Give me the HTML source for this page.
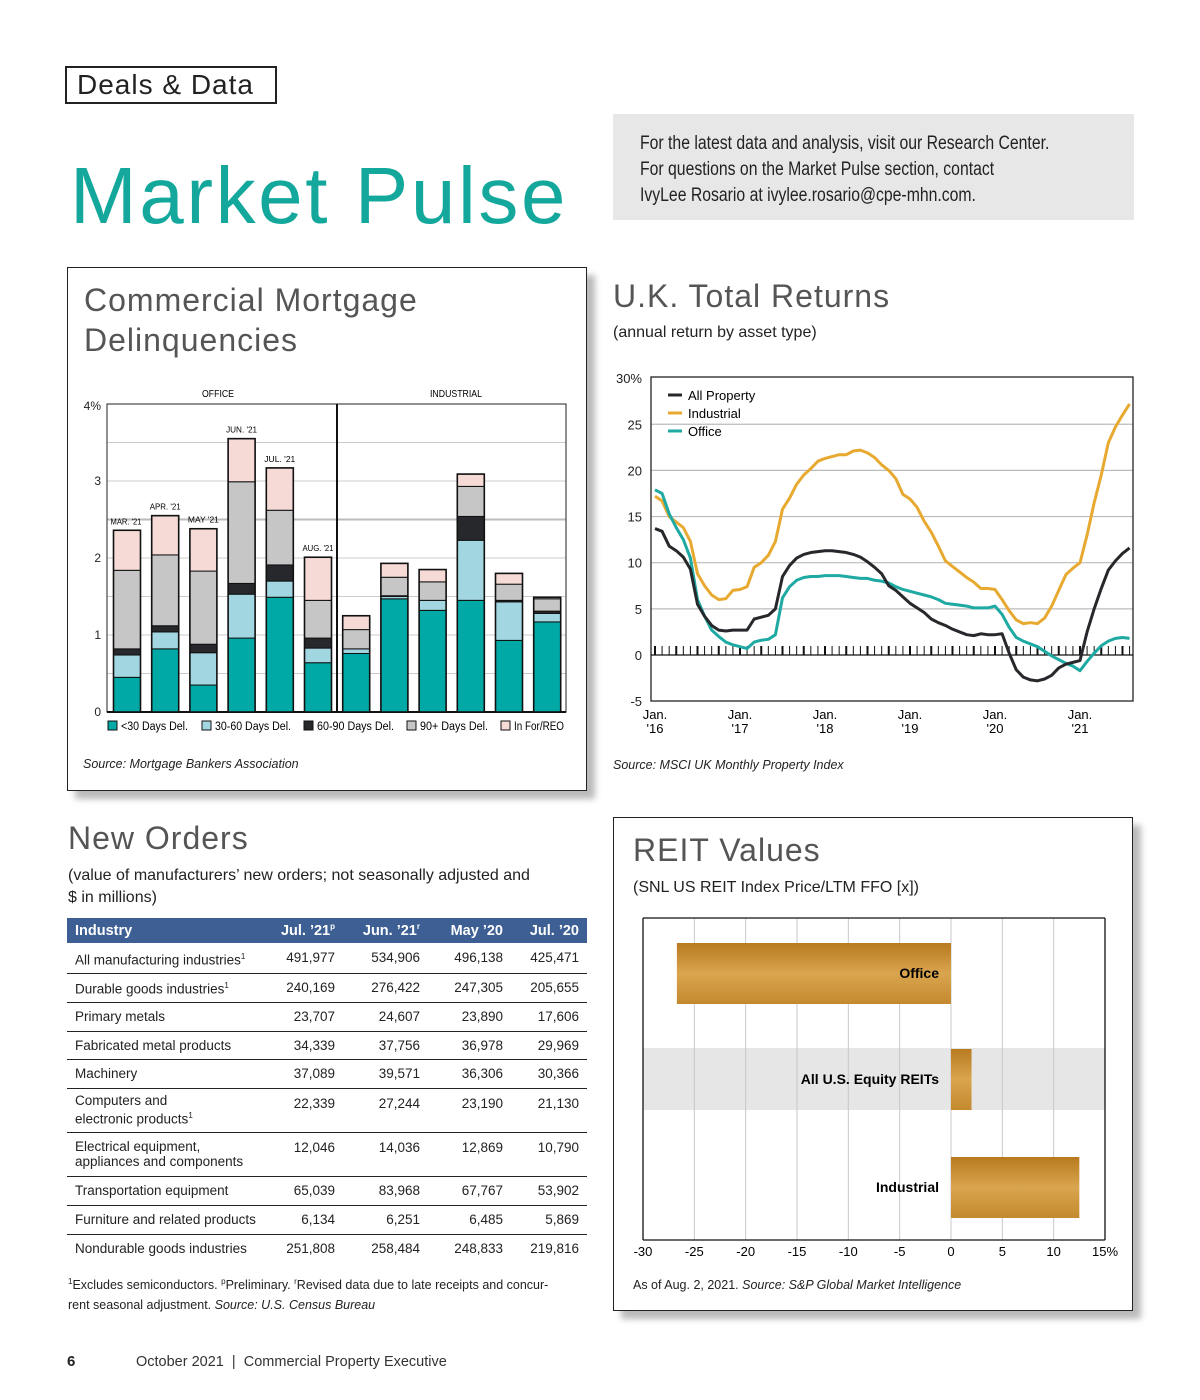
<!DOCTYPE html>
<html><head><meta charset="utf-8">
<style>
*{margin:0;padding:0;box-sizing:border-box}
body{width:1200px;height:1400px;background:#fff;position:relative;font-family:"Liberation Sans",sans-serif;color:#222;overflow:hidden}
.abs{position:absolute}
.title{font-weight:300;color:#555;font-size:32px;letter-spacing:1px}
.sub{font-size:16px;color:#222}
.src{font-size:12.5px;color:#222}
table{border-collapse:collapse;font-size:13.5px;table-layout:fixed}
td{border-bottom:1px solid #222;padding:0 8px;vertical-align:middle;line-height:15px;white-space:nowrap}
td.n{text-align:right}
tr:last-child td{border-bottom:none}
th{background:#3d5f94;color:#fff;font-weight:bold;font-size:14.5px;height:25px;padding:0 8px;text-align:right;white-space:nowrap}
th:first-child{text-align:left}
.info span{display:block;white-space:nowrap;transform:scaleX(0.83);transform-origin:left center}
</style></head><body>
<div class="abs" style="left:65px;top:66px;width:212px;height:38px;border:2px solid #222;font-size:28px;line-height:34px;padding-left:10px;color:#222;letter-spacing:1px">Deals &amp; Data</div>
<div class="abs" style="left:70px;top:150px;font-size:80px;color:#14a89c;letter-spacing:2.6px">Market Pulse</div>
<div class="abs info" style="left:613px;top:114px;width:521px;height:106px;background:#e7e7e7;padding:17px 0 0 27px;font-size:19px;line-height:26px;color:#222"><span>For the latest data and analysis, visit our Research Center.</span><span>For questions on the Market Pulse section, contact</span><span>IvyLee Rosario at ivylee.rosario@cpe-mhn.com.</span></div>

<!-- Delinquency panel -->
<div class="abs" style="left:67px;top:267px;width:520px;height:524px;border:1.5px solid #222;box-shadow:8px 8px 6px #bbb;background:#fff"></div>
<div class="abs title" style="left:84px;top:280px;line-height:40px">Commercial Mortgage<br>Delinquencies</div>
<div class="abs src" style="left:83px;top:757px"><i>Source: Mortgage Bankers Association</i></div>
<svg class="abs" style="left:0;top:0" width="1200" height="1400" id="dchart"></svg>

<!-- UK -->
<div class="abs title" style="left:613px;top:278px">U.K. Total Returns</div>
<div class="abs sub" style="left:613px;top:324px">(annual return by asset type)</div>
<div class="abs src" style="left:613px;top:758px"><i>Source: MSCI UK Monthly Property Index</i></div>

<!-- New Orders -->
<div class="abs title" style="left:68px;top:820px">New Orders</div>
<div class="abs sub" style="left:68px;top:865px;line-height:22px">(value of manufacturers’ new orders; not seasonally adjusted and<br>$ in millions)</div>
<table class="abs" style="left:67px;top:918px;width:520px">
<colgroup><col style="width:200px"><col style="width:76px"><col style="width:85px"><col style="width:83px"><col style="width:76px"></colgroup>
<tr><th>Industry</th><th>Jul. ’21<sup style="font-size:8px">p</sup></th><th>Jun. ’21<sup style="font-size:8px">r</sup></th><th>May ’20</th><th>Jul. ’20</th></tr>
<tr style="height:30px"><td>All manufacturing industries<sup style="font-size:8px">1</sup></td><td class="n">491,977</td><td class="n">534,906</td><td class="n">496,138</td><td class="n">425,471</td></tr>
<tr style="height:29px"><td>Durable goods industries<sup style="font-size:8px">1</sup></td><td class="n">240,169</td><td class="n">276,422</td><td class="n">247,305</td><td class="n">205,655</td></tr>
<tr style="height:29px"><td>Primary metals</td><td class="n">23,707</td><td class="n">24,607</td><td class="n">23,890</td><td class="n">17,606</td></tr>
<tr style="height:28px"><td>Fabricated metal products</td><td class="n">34,339</td><td class="n">37,756</td><td class="n">36,978</td><td class="n">29,969</td></tr>
<tr style="height:29px"><td>Machinery</td><td class="n">37,089</td><td class="n">39,571</td><td class="n">36,306</td><td class="n">30,366</td></tr>
<tr style="height:44px"><td>Computers and<br>electronic products<sup style="font-size:8px">1</sup></td><td class="n" style="vertical-align:top;padding-top:7px">22,339</td><td class="n" style="vertical-align:top;padding-top:7px">27,244</td><td class="n" style="vertical-align:top;padding-top:7px">23,190</td><td class="n" style="vertical-align:top;padding-top:7px">21,130</td></tr>
<tr style="height:44px"><td>Electrical equipment,<br>appliances and components</td><td class="n" style="vertical-align:top;padding-top:7px">12,046</td><td class="n" style="vertical-align:top;padding-top:7px">14,036</td><td class="n" style="vertical-align:top;padding-top:7px">12,869</td><td class="n" style="vertical-align:top;padding-top:7px">10,790</td></tr>
<tr style="height:29px"><td>Transportation equipment</td><td class="n">65,039</td><td class="n">83,968</td><td class="n">67,767</td><td class="n">53,902</td></tr>
<tr style="height:29px"><td>Furniture and related products</td><td class="n">6,134</td><td class="n">6,251</td><td class="n">6,485</td><td class="n">5,869</td></tr>
<tr style="height:28px"><td>Nondurable goods industries</td><td class="n">251,808</td><td class="n">258,484</td><td class="n">248,833</td><td class="n">219,816</td></tr>
</table>
<div class="abs src" style="left:68px;top:1272px;line-height:20px"><sup style="font-size:8px">1</sup>Excludes semiconductors. <sup style="font-size:8px">p</sup>Preliminary. <sup style="font-size:8px">r</sup>Revised data due to late receipts and concur-<br>rent seasonal adjustment. <i>Source: U.S. Census Bureau</i></div>

<!-- REIT -->
<div class="abs" style="left:613px;top:817px;width:520px;height:494px;border:1.5px solid #222;box-shadow:8px 8px 6px #bbb;background:#fff"></div>
<div class="abs title" style="left:633px;top:832px">REIT Values</div>
<div class="abs sub" style="left:633px;top:879px">(SNL US REIT Index Price/LTM FFO [x])</div>
<div class="abs src" style="left:633px;top:1278px">As of Aug. 2, 2021. <i>Source: S&amp;P Global Market Intelligence</i></div>

<div class="abs" style="left:67px;top:1353px;font-size:15px;font-weight:bold">6</div>
<div class="abs" style="left:136px;top:1354px;font-size:14.5px;color:#333">October 2021 &nbsp;|&nbsp; Commercial Property Executive</div>

<svg class="abs" style="left:0;top:0" width="1200" height="1400" id="ukchart"></svg>
<svg class="abs" style="left:0;top:0" width="1200" height="1400" id="reitchart"></svg>

<script>
// ---- Delinquency data ----
const dCats = ["MAR. '21","APR. '21","MAY '21","JUN. '21","JUL. '21","AUG. '21","","","","","",""];
const dLt30 = [0.45,0.82,0.35,0.96,1.49,0.64,0.76,1.47,1.32,1.45,0.93,1.17];
const d30_60 = [0.29,0.22,0.42,0.57,0.21,0.19,0.06,0.03,0.13,0.78,0.50,0.11];
const d60_90 = [0.08,0.08,0.11,0.14,0.21,0.13,0.00,0.01,0.00,0.31,0.02,0.03];
const d90p = [1.02,0.92,0.95,1.32,0.71,0.49,0.25,0.24,0.24,0.39,0.21,0.16];
const dReo = [0.52,0.51,0.55,0.56,0.55,0.56,0.18,0.18,0.16,0.16,0.14,0.02];
const dTicks = [0,1,2,3,4];
const dColors = ["#00a9a5","#a2d6e1","#26282c","#c6c6c6","#f5dad6"];
const dLegend = ["<30 Days Del.","30-60 Days Del.","60-90 Days Del.","90+ Days Del.","In For/REO"];

// ---- UK data (monthly Jan 2016 - Aug 2021) ----
const ukAll = [13.7,13.4,11.8,11.3,10.6,9.3,5.5,4.2,3.2,2.7,2.6,2.7, 2.7,2.7,3.9,4.1,4.3,5.0,8.5,9.7,10.5,10.9,11.1,11.2, 11.3,11.3,11.2,11.1,10.9,10.6,10.1,9.5,8.8,7.5,7.0,6.3, 5.6,5.1,4.6,3.9,3.5,3.2,2.8,2.5,2.2,2.1,2.3,2.2, 2.2,2.3,0.2,-1.6,-2.4,-2.7,-2.8,-2.6,-2.2,-1.4,-1.0,-0.8, -0.6,2.5,5.0,7.2,9.2,10.2,11.0,11.6];
const ukInd = [17.2,16.7,15.0,14.4,13.8,12.3,8.8,7.5,6.5,6.0,6.1,7.0, 7.1,7.4,9.5,10.0,10.8,12.3,15.8,17.0,18.5,19.5,20.2,21.0, 21.3,21.5,21.7,21.7,22.1,22.2,21.9,21.4,20.6,20.0,19.1,17.4, 16.9,16.0,14.5,13.3,11.8,10.2,9.6,9.0,8.4,7.9,7.2,7.2, 7.1,6.0,4.8,3.8,3.4,3.5,3.4,4.0,5.3,7.0,8.7,9.4, 10.0,13.0,16.5,19.5,23.0,24.7,26.0,27.2];
const ukOff = [17.9,17.5,15.3,13.8,12.5,10.5,6.0,4.2,2.7,2.0,1.4,1.1, 0.9,0.7,1.4,1.6,1.7,2.2,6.2,7.4,8.1,8.4,8.5,8.5, 8.6,8.6,8.6,8.5,8.4,8.3,8.3,8.1,8.0,7.8,7.4,7.1, 6.9,6.7,6.5,6.3,6.0,5.6,5.5,5.4,5.3,5.1,5.1,5.1, 5.3,4.4,3.0,1.9,1.5,1.2,0.9,0.4,-0.1,-0.5,-0.9,-1.2, -1.7,-0.7,0.2,1.0,1.5,1.8,1.9,1.8];
const ukYTicks = [-5,0,5,10,15,20,25,30];
const ukYears = ["'16","'17","'18","'19","'20","'21"];

// ---- REIT data ----
const reitCats = ["Office","All U.S. Equity REITs","Industrial"];
const reitVals = [-26.7,2.0,12.5];
const reitTicks = [-30,-25,-20,-15,-10,-5,0,5,10,15];

const NS="http://www.w3.org/2000/svg";
function mk(svg,tag,attrs,text){const e=document.createElementNS(NS,tag);for(const k in attrs)e.setAttribute(k,attrs[k]);if(text!==undefined)e.textContent=text;svg.appendChild(e);return e;}

// Delinquency chart
(function(){
 const s=document.getElementById('dchart');
 const x0=107,x1=566,yb=712,yt=404;
 const y=v=>yb-(v/4)*(yb-yt);
 const cx=i=>127+38.2*i;
 for(let v=0.5;v<=4;v+=0.5){const l=mk(s,'line',{x1:x0,x2:x1,y1:y(v),y2:y(v),stroke:v===2.5?'#bbb':'#ccc','stroke-width':v===2.5?2:1});
  }
 const fr=mk(s,'rect',{x:x0,y:yt,width:x1-x0,height:yb-yt,fill:'none',stroke:'#222','stroke-width':1});
 
 mk(s,'line',{x1:337,x2:337,y1:yt,y2:yb,stroke:'#111','stroke-width':2});
 mk(s,'line',{x1:x0,x2:x1,y1:yb,y2:yb,stroke:'#111','stroke-width':2});
 dTicks.forEach(t=>{const e=mk(s,'text',{x:101,y:y(t)+4+(t===4?2:0),'text-anchor':'end','font-size':12,fill:'#222'},t===4?'4%':String(t));
  });
 mk(s,'text',{x:218,y:397,'text-anchor':'middle','font-size':10,textLength:32,lengthAdjust:'spacingAndGlyphs'},'OFFICE');
 mk(s,'text',{x:456,y:397,'text-anchor':'middle','font-size':10,textLength:52,lengthAdjust:'spacingAndGlyphs'},'INDUSTRIAL');
 const series=[dLt30,d30_60,d60_90,d90p,dReo];
 for(let i=0;i<dLt30.length;i++){
  let acc=0;
  series.forEach((arr,k)=>{const v=arr[i];if(v<=0)return;
   const r=mk(s,'rect',{x:cx(i)-13.5,y:y(acc+v),width:27,height:y(acc)-y(acc+v),fill:dColors[k],stroke:'#111','stroke-width':1});
   
   acc+=v;});
  mk(s,'rect',{x:cx(i)-13.5,y:y(acc),width:27,height:yb-y(acc),fill:'none',stroke:'#111','stroke-width':1.6});
  if(dCats[i]){const t=mk(s,'text',{x:cx(i)+(i===0?-1:0),y:y(acc)-6,'text-anchor':'middle','font-size':8.5,textLength:31,lengthAdjust:'spacingAndGlyphs'},dCats[i]);
   }
 }
 const lx=[108,202,304,407,501];
 const lw=[67,76,77,68,50];
 dLegend.forEach((n,k)=>{const r=mk(s,'rect',{x:lx[k],y:721,width:9,height:9,fill:dColors[k],stroke:'#111'});
  
  const t=mk(s,'text',{x:lx[k]+13,y:730,'font-size':11.5,textLength:lw[k],lengthAdjust:'spacingAndGlyphs'},n);
  });
})();

// UK chart
(function(){
 const s=document.getElementById('ukchart');
 const x0=651,x1=1133,yt=377,yb=701;
 const y=v=>655-v*9.23;
 const x=i=>655+i*(85/12);
 ukYTicks.forEach(t=>{
  if(t>-5&&t<30&&t!==0){const l=mk(s,'line',{x1:x0,x2:x1,y1:y(t),y2:y(t),stroke:'#bbb','stroke-width':1.2});}
  const e=mk(s,'text',{x:642,y:y(t)+5,'text-anchor':'end','font-size':13,fill:'#222'},t===30?'30%':String(t));
  });
 mk(s,'rect',{x:x0,y:yt,width:x1-x0,height:yb-yt,fill:'none',stroke:'#222','stroke-width':1.3});
 mk(s,'line',{x1:x0,x2:x1,y1:y(0),y2:y(0),stroke:'#111','stroke-width':1.3});
 for(let i=0;i<ukAll.length;i++){mk(s,'line',{x1:x(i),x2:x(i),y1:y(0),y2:y(0)-9,stroke:'#111','stroke-width':i%3===0?2:1});}
 ukYears.forEach((yr,k)=>{const t=mk(s,'text',{x:x(k*12),y:719,'text-anchor':'middle','font-size':13},'Jan.');
  
  mk(s,'text',{x:x(k*12),y:733,'text-anchor':'middle','font-size':13},yr);});
 const lines=[[ukInd,'#e8a931','industrial-line'],[ukOff,'#1ea9a2','office-line'],[ukAll,'#26282b','all-property-line']];
 lines.forEach(([arr,c,n])=>{const p=mk(s,'polyline',{points:arr.map((v,i)=>x(i)+','+y(v)).join(' '),fill:'none',stroke:c,'stroke-width':3,'stroke-linejoin':'round'});
  });
 [['All Property','#26282b'],['Industrial','#e8a931'],['Office','#1ea9a2']].forEach(([n,c],k)=>{
  mk(s,'line',{x1:668,x2:682,y1:395+k*18,y2:395+k*18,stroke:c,'stroke-width':3});
  const t=mk(s,'text',{x:688,y:400+k*18,'font-size':13},n);
  });
})();

// REIT chart
(function(){
 const s=document.getElementById('reitchart');
 const x0=643,x1=1105,yt=918,yb=1240;
 const x=v=>951+v*(462/45);
 const d=mk(s,'defs',{});
 const g=mk(d,'linearGradient',{id:'gold',x1:0,y1:0,x2:0,y2:1});
 mk(g,'stop',{offset:'0','stop-color':'#b87a1f'});mk(g,'stop',{offset:'0.5','stop-color':'#d9a54f'});mk(g,'stop',{offset:'1','stop-color':'#c4892e'});
 mk(s,'rect',{x:x0,y:1048,width:x1-x0,height:62,fill:'#e6e6e6'});
 reitTicks.forEach(t=>{mk(s,'line',{x1:x(t),x2:x(t),y1:yt,y2:yb,stroke:'#c8c8c8','stroke-width':1});
  const e=mk(s,'text',{x:x(t),y:1256,'text-anchor':'middle','font-size':13},t===15?'15%':String(t));
  });
 mk(s,'line',{x1:x0,x2:x0,y1:yt,y2:yb,stroke:'#111','stroke-width':1.3});
 mk(s,'line',{x1:x1,x2:x1,y1:yt,y2:yb,stroke:'#111','stroke-width':1.3});
 mk(s,'line',{x1:x0,x2:x1,y1:yt,y2:yt,stroke:'#111','stroke-width':1.3});
 mk(s,'line',{x1:x0,x2:x1,y1:yb,y2:yb,stroke:'#111','stroke-width':1.3});
 const bandY=[943,1049,1157];
 reitCats.forEach((c,k)=>{const v=reitVals[k];
  const r=mk(s,'rect',{x:Math.min(x(0),x(v)),y:bandY[k],width:Math.abs(x(v)-x(0)),height:61,fill:'url(#gold)'});
  
  const t=mk(s,'text',{x:939,y:bandY[k]+35,'text-anchor':'end','font-size':14,'font-weight':'bold'},c);
  });
})();
</script>
</body></html>
